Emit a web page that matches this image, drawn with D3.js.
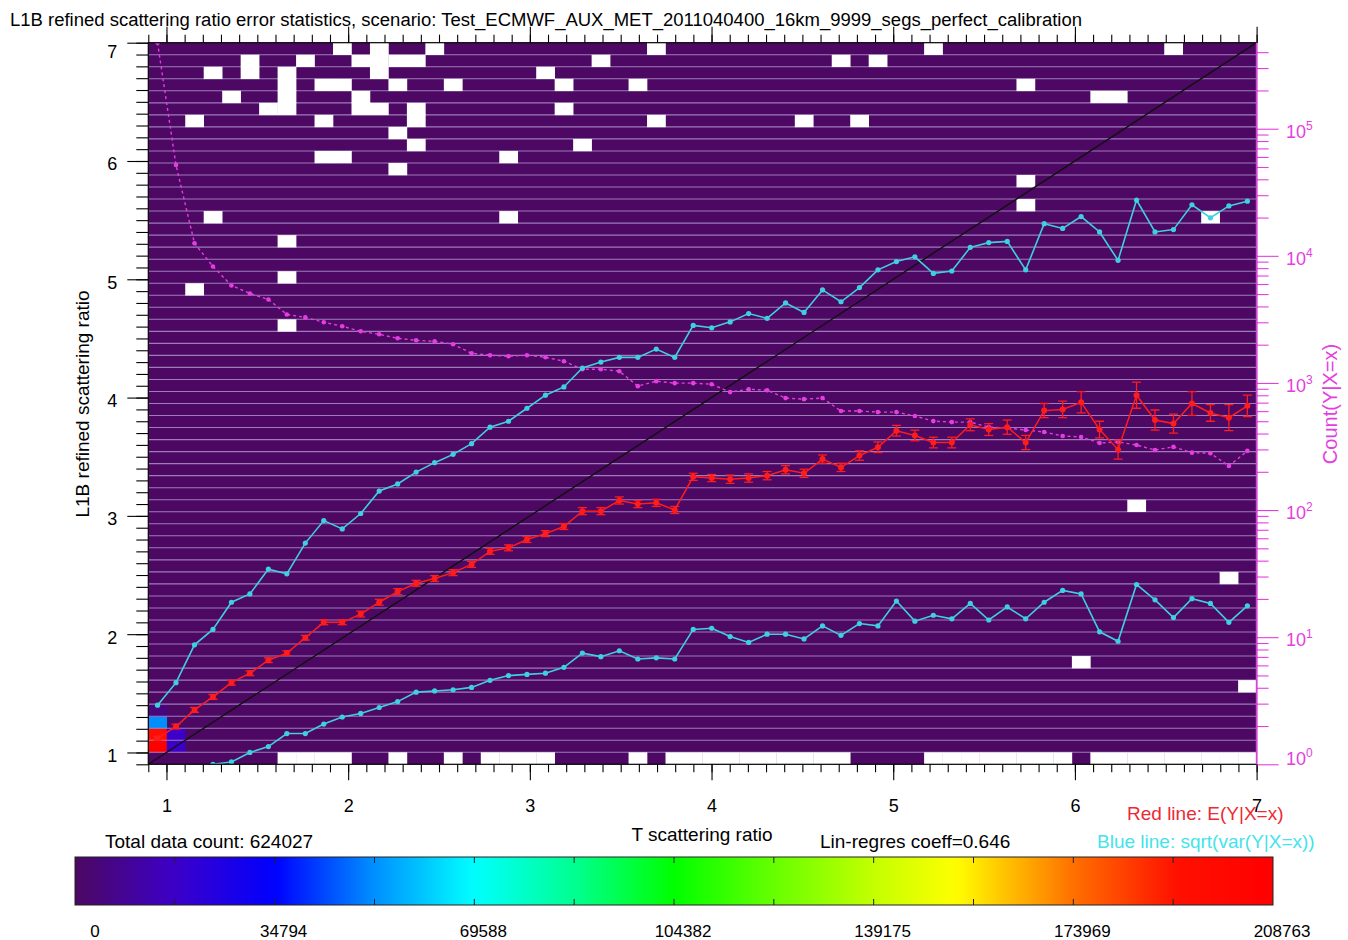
<!DOCTYPE html>
<html><head><meta charset="utf-8">
<script src="https://cdn.jsdelivr.net/npm/d3@7"></script>
<style>
body{margin:0;background:#fff}
svg{display:block}
text{font-family:"Liberation Sans",Arial,Helvetica,sans-serif}
</style>
</head><body>
<svg id="chart" width="1348" height="940"></svg>
<script>
// ---------------- DATA ----------------
const titleText = "L1B refined scattering ratio error statistics, scenario: Test_ECMWF_AUX_MET_2011040400_16km_9999_segs_perfect_calibration";
const axisRange = [0.9, 7.0];
const nBins = 60;
const xTickLabels = [1, 2, 3, 4, 5, 6, 7];
const yTickLabels = [1, 2, 3, 4, 5, 6, 7];
const countTicks = [1, 10, 100, 1000, 10000, 100000];
const countMax = 475000;
const colorbarLabels = [0, 34794, 69588, 104382, 139175, 173969, 208763];

// upper blue line (per x-bin, 60 bins)
const upperLine = [1.40,1.59,1.91,2.04,2.27,2.34,2.55,2.51,2.77,2.96,
  2.89,3.02,3.21,3.27,3.37,3.45,3.52,3.61,3.75,3.80,
  3.91,4.02,4.09,4.25,4.30,4.34,4.34,4.41,4.34,4.61,
  4.59,4.64,4.71,4.67,4.80,4.72,4.91,4.81,4.93,5.08,
  5.15,5.19,5.05,5.07,5.27,5.31,5.32,5.08,5.47,5.43,
  5.53,5.40,5.16,5.67,5.40,5.42,5.63,5.52,5.62,5.66];
// lower blue line
const lowerLine = [0.60,0.70,0.80,0.90,0.92,1.00,1.05,1.16,1.16,1.24,
  1.30,1.33,1.38,1.43,1.51,1.52,1.53,1.55,1.61,1.65,
  1.66,1.67,1.72,1.84,1.81,1.86,1.79,1.80,1.79,2.04,
  2.05,1.98,1.93,2.00,2.00,1.96,2.07,1.99,2.09,2.07,
  2.28,2.11,2.16,2.13,2.26,2.12,2.23,2.13,2.27,2.37,
  2.34,2.02,1.94,2.42,2.29,2.14,2.30,2.26,2.10,2.24];
// red line E(Y|X=x)
const meanLine = [1.12,1.22,1.36,1.47,1.59,1.67,1.78,1.84,1.97,2.10,
  2.10,2.17,2.27,2.36,2.43,2.47,2.52,2.59,2.70,2.73,
  2.80,2.85,2.91,3.04,3.04,3.13,3.10,3.11,3.05,3.33,
  3.32,3.31,3.32,3.34,3.39,3.36,3.48,3.41,3.51,3.58,
  3.72,3.68,3.62,3.62,3.77,3.73,3.75,3.62,3.89,3.90,
  3.96,3.73,3.56,4.02,3.81,3.78,3.95,3.87,3.83,3.93];
const meanErr = [0.015,0.02,0.02,0.02,0.02,0.02,0.02,0.02,0.02,0.02,
  0.02,0.025,0.025,0.025,0.025,0.025,0.025,0.025,0.025,0.025,
  0.025,0.025,0.025,0.03,0.03,0.03,0.03,0.03,0.03,0.03,
  0.03,0.035,0.035,0.035,0.035,0.035,0.035,0.035,0.04,0.045,
  0.045,0.045,0.045,0.045,0.05,0.05,0.06,0.06,0.06,0.07,
  0.09,0.07,0.08,0.11,0.085,0.08,0.10,0.07,0.11,0.09];
// magenta line Count(Y|X=x)
const countLine = [475000,51800,12560,8240,5850,5060,4540,3460,3280,3000,
  2790,2550,2415,2245,2165,2125,2015,1713,1652,1622,
  1652,1593,1482,1283,1283,1237,944,1033,996,996,
  977,847,893,877,760,746,760,601,601,590,
  590,549,501,492,492,450,442,426,411,383,
  376,337,343,325,297,314,283,280,222,292];

// heat-map cells with a visible count: [xBin, yBin, count]
const hotCells = [[0,1,208763],[0,2,195000],[0,3,52000],[0,4,5000],[1,1,17000],[1,2,17000]];
const baseCount = 300;
// empty cells (no data): [xBin, yBin]
const emptyCells = [
 [10,59],[12,59],[15,59],[27,59],[42,59],[55,59],
 [5,58],[8,58],[11,58],[12,58],[13,58],[14,58],[24,58],[37,58],[39,58],
 [3,57],[5,57],[7,57],[12,57],[21,57],
 [7,56],[9,56],[10,56],[13,56],[16,56],[22,56],[26,56],[47,56],
 [4,55],[7,55],[11,55],[51,55],[52,55],
 [6,54],[7,54],[11,54],[12,54],[14,54],[22,54],
 [2,53],[9,53],[14,53],[27,53],[35,53],[38,53],
 [13,52],[14,51],[23,51],[9,50],[10,50],[19,50],[13,49],
 [47,48],[47,46],[3,45],[19,45],[57,45],[7,43],[7,40],[2,39],[7,36],
 [53,21],[58,15],[50,8],[59,6],
 [7,0],[8,0],[9,0],[10,0],[13,0],[16,0],[18,0],[19,0],[20,0],[21,0],[26,0],
 [28,0],[29,0],[30,0],[31,0],[32,0],[33,0],[34,0],[35,0],[36,0],[37,0],
 [42,0],[43,0],[44,0],[45,0],[46,0],[47,0],[48,0],[49,0],
 [51,0],[52,0],[53,0],[54,0],[55,0],[56,0],[57,0],[58,0],[59,0]];

// colour table (fraction of max -> colour)
const cmapStops = [0,0.083,0.167,0.25,0.333,0.417,0.5,0.583,0.667,0.735,0.833,0.92,1];
const cmapColors = ["#4c0860","#3c00c8","#0000ff","#0090ff","#00ffff","#00ff90","#00ff00","#66ff00","#c4ff00","#ffff00","#ff7000","#ff1000","#ff0000"];

// ---------------- DRAW ----------------
const svg = d3.select("#chart");
const PL = 148.3, PR = 1256.6, PT = 42.7, PB = 764.3;
const x = d3.scaleLinear().domain(axisRange).range([PL, PR]);
const y = d3.scaleLinear().domain(axisRange).range([PB, PT]);
const yc = d3.scaleLog().domain([1, countMax]).range([PB, PT]);
const cmax = colorbarLabels[colorbarLabels.length - 1];
const cmap = d3.scaleLinear().domain(cmapStops.map(s => s * cmax)).range(cmapColors).clamp(true);
const bw = (axisRange[1] - axisRange[0]) / nBins;
const xc = i => axisRange[0] + bw * (i + 0.5);
const MAG = "#e53ee0";
const FS = 19;

svg.append("text").attr("x", 10).attr("y", 26).attr("font-size", 18)
  .attr("textLength", 1072).attr("lengthAdjust", "spacingAndGlyphs").text(titleText);

const defs = svg.append("defs");
defs.append("clipPath").attr("id", "clip").append("rect")
  .attr("x", PL).attr("y", PT).attr("width", PR - PL).attr("height", PB - PT);

const plot = svg.append("g").attr("clip-path", "url(#clip)");
plot.append("rect").attr("x", PL).attr("y", PT).attr("width", PR - PL).attr("height", PB - PT)
  .attr("fill", cmap(baseCount));
const cellRect = (sel) => sel
  .attr("x", d => x(axisRange[0] + bw * d[0]))
  .attr("y", d => y(axisRange[0] + bw * (d[1] + 1)))
  .attr("width", x(axisRange[0] + bw) - x(axisRange[0]) + 0.3)
  .attr("height", y(axisRange[0]) - y(axisRange[0] + bw) + 0.3);
plot.selectAll(".hot").data(hotCells).join("rect").attr("class", "hot").call(cellRect)
  .attr("fill", d => cmap(d[2]));
// row separators
plot.selectAll(".sep").data(d3.range(1, nBins)).join("line").attr("class", "sep")
  .attr("x1", PL).attr("x2", PR)
  .attr("y1", j => y(axisRange[0] + bw * j)).attr("y2", j => y(axisRange[0] + bw * j))
  .attr("stroke", "#a888c4").attr("stroke-width", 1.1).attr("stroke-opacity", 0.9);
plot.selectAll(".empty").data(emptyCells).join("rect").attr("class", "empty").call(cellRect)
  .attr("fill", "#ffffff");

// diagonal y = x
plot.append("line").attr("x1", x(axisRange[0])).attr("y1", y(axisRange[0]))
  .attr("x2", x(axisRange[1])).attr("y2", y(axisRange[1]))
  .attr("stroke", "#111").attr("stroke-width", 1.4);

// magenta count line
const idx = d3.range(nBins);
plot.append("path").datum(idx)
  .attr("d", d3.line().x(i => x(xc(i))).y(i => yc(countLine[i])))
  .attr("fill", "none").attr("stroke", MAG).attr("stroke-width", 1.4)
  .attr("stroke-dasharray", "3,3");
plot.selectAll(".cdot").data(idx).join("circle").attr("class", "cdot")
  .attr("cx", i => x(xc(i))).attr("cy", i => yc(countLine[i])).attr("r", 2.3)
  .attr("fill", MAG);

// blue lines
const CY = "#3fd0e0";
[upperLine, lowerLine].forEach(arr => {
  plot.append("path").datum(idx)
    .attr("d", d3.line().x(i => x(xc(i))).y(i => y(arr[i])))
    .attr("fill", "none").attr("stroke", CY).attr("stroke-width", 1.6);
  plot.selectAll(null).data(idx).join("circle")
    .attr("cx", i => x(xc(i))).attr("cy", i => y(arr[i])).attr("r", 2.6).attr("fill", CY);
});

// red line with error bars
const RD = "#ff1c1c";
plot.append("path").datum(idx)
  .attr("d", d3.line().x(i => x(xc(i))).y(i => y(meanLine[i])))
  .attr("fill", "none").attr("stroke", RD).attr("stroke-width", 1.5);
const eb = plot.selectAll(".eb").data(idx).join("g").attr("class", "eb");
eb.append("line").attr("x1", i => x(xc(i))).attr("x2", i => x(xc(i)))
  .attr("y1", i => y(meanLine[i] - meanErr[i])).attr("y2", i => y(meanLine[i] + meanErr[i]))
  .attr("stroke", RD).attr("stroke-width", 1.3);
[-1, 1].forEach(s => eb.append("line")
  .attr("x1", i => x(xc(i)) - 4.5).attr("x2", i => x(xc(i)) + 4.5)
  .attr("y1", i => y(meanLine[i] + s * meanErr[i])).attr("y2", i => y(meanLine[i] + s * meanErr[i]))
  .attr("stroke", RD).attr("stroke-width", 1.3));
eb.append("circle").attr("cx", i => x(xc(i))).attr("cy", i => y(meanLine[i])).attr("r", 3).attr("fill", RD);

// ---------------- AXES ----------------
const minorX = d3.range(9, 71).map(v => v / 10);
function styleAxis(g, color) {
  g.select(".domain").remove();
  g.selectAll("line").attr("stroke", color).attr("stroke-width", 1.1);
  g.selectAll("text").attr("fill", color).attr("font-size", 18)
    .attr("font-family", '"Liberation Sans",Arial,sans-serif');
}
svg.append("g").attr("transform", `translate(0,${PB})`)
  .call(d3.axisBottom(x).tickValues(minorX).tickSize(8).tickFormat("")).call(g => styleAxis(g, "#000"));
svg.append("g").attr("transform", `translate(0,${PB})`)
  .call(d3.axisBottom(x).tickValues(xTickLabels).tickSize(16).tickPadding(19).tickFormat(d3.format("d")))
  .call(g => styleAxis(g, "#000"));
svg.append("g").attr("transform", `translate(0,${PT})`)
  .call(d3.axisTop(x).tickValues(minorX).tickSize(8).tickFormat("")).call(g => styleAxis(g, "#000"));
svg.append("g").attr("transform", `translate(0,${PT})`)
  .call(d3.axisTop(x).tickValues(xTickLabels).tickSize(16).tickFormat("")).call(g => styleAxis(g, "#000"));

svg.append("g").attr("transform", `translate(${PL},0)`)
  .call(d3.axisLeft(y).tickValues(minorX).tickSize(12).tickFormat("")).call(g => styleAxis(g, "#000"));
const yAx = svg.append("g").attr("transform", `translate(${PL},0)`)
  .call(d3.axisLeft(y).tickValues(yTickLabels).tickSize(21).tickPadding(10).tickFormat(d3.format("d")))
  .call(g => styleAxis(g, "#000"));
yAx.selectAll("text").attr("dy", d => d === 7 ? "15px" : "9px");

// right count axis (log)
const minorC = [];
for (let e = 0; e < 6; e++) for (let m = 2; m <= 9; m++) { const v = m * Math.pow(10, e); if (v <= countMax) minorC.push(v); }
svg.append("g").attr("transform", `translate(${PR},0)`)
  .call(d3.axisRight(yc).tickValues(minorC).tickSize(12).tickFormat("")).call(g => styleAxis(g, MAG));
svg.append("g").attr("transform", `translate(${PR},0)`)
  .call(d3.axisRight(yc).tickValues(countTicks).tickSize(22).tickFormat("")).call(g => styleAxis(g, MAG));
countTicks.forEach(v => {
  const t = svg.append("text").attr("x", 1286).attr("y", Math.min(yc(v) + 9, PB + 1))
    .attr("fill", MAG).attr("font-size", 18);
  t.append("tspan").text("10");
  t.append("tspan").attr("dy", -8).attr("font-size", 12).text(String(Math.round(Math.log10(v))));
});

// frame
svg.append("rect").attr("x", PL).attr("y", PT).attr("width", PR - PL).attr("height", PB - PT)
  .attr("fill", "none").attr("stroke", "#000").attr("stroke-width", 1.2);
svg.append("line").attr("x1", PR).attr("x2", PR).attr("y1", PT).attr("y2", PB)
  .attr("stroke", MAG).attr("stroke-width", 1.6);

// axis titles
svg.append("text").attr("transform", "translate(89,404) rotate(-90)").attr("text-anchor", "middle")
  .attr("font-size", FS).text("L1B refined scattering ratio");
svg.append("text").attr("transform", "translate(1337,404) rotate(-90)").attr("text-anchor", "middle")
  .attr("font-size", FS + 1).attr("fill", MAG).text("Count(Y|X=x)");
svg.append("text").attr("x", 702).attr("y", 841).attr("text-anchor", "middle").attr("font-size", FS)
  .text("T scattering ratio");
svg.append("text").attr("x", 105).attr("y", 848).attr("font-size", FS).text("Total data count: 624027");
svg.append("text").attr("x", 820).attr("y", 848).attr("font-size", FS).text("Lin-regres coeff=0.646");
svg.append("text").attr("x", 1127).attr("y", 820).attr("font-size", FS).attr("fill", "#ec2a33")
  .text("Red line: E(Y|X=x)");
svg.append("text").attr("x", 1097).attr("y", 848).attr("font-size", FS).attr("fill", "#45e3ea")
  .text("Blue line: sqrt(var(Y|X=x))");

// ---------------- COLORBAR ----------------
const CBL = 75, CBR = 1273, CBT = 857, CBB = 905;
const cb = d3.scaleLinear().domain([0, cmax]).range([CBL, CBR]);
const grad = defs.append("linearGradient").attr("id", "cbgrad").attr("x1", "0").attr("x2", "1").attr("y1", "0").attr("y2", "0");
d3.range(0, 101).forEach(p => grad.append("stop").attr("offset", p + "%").attr("stop-color", cmap(p / 100 * cmax)));
svg.append("rect").attr("x", CBL).attr("y", CBT).attr("width", CBR - CBL).attr("height", CBB - CBT)
  .attr("fill", "url(#cbgrad)").attr("stroke", "#222").attr("stroke-width", 1);
const cbTicks = d3.range(1, 12).map(i => i * cmax / 12);
svg.selectAll(".cbt").data(cbTicks).join("g").attr("class", "cbt").each(function (v) {
  const g = d3.select(this);
  g.append("line").attr("x1", cb(v)).attr("x2", cb(v)).attr("y1", CBT).attr("y2", CBT + 6).attr("stroke", "#222");
  g.append("line").attr("x1", cb(v)).attr("x2", cb(v)).attr("y1", CBB - 6).attr("y2", CBB).attr("stroke", "#222");
});
svg.selectAll(".cbl").data(colorbarLabels).join("text").attr("class", "cbl")
  .attr("x", (v, i) => cb(v) + (i === 0 ? 20 : 9)).attr("y", 937).attr("text-anchor", "middle")
  .attr("font-size", 17).text(d => d);
</script>
</body></html>
